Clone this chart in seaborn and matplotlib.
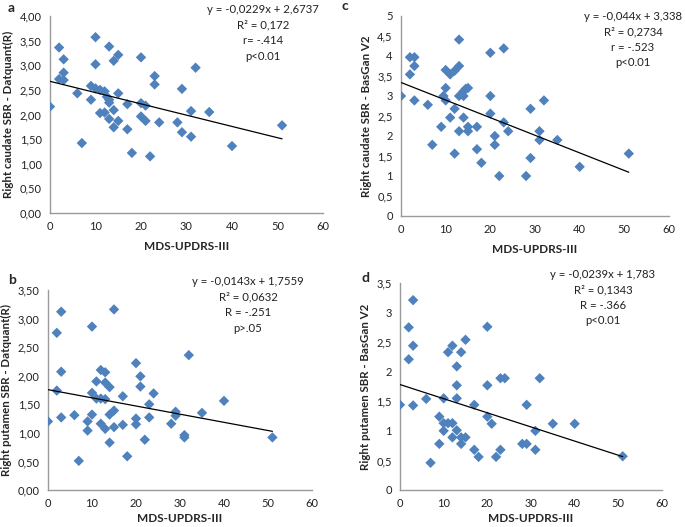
import numpy as np
import pandas as pd
import matplotlib
matplotlib.use("Agg")
import matplotlib.pyplot as plt
import seaborn as sns

# panel a: right caudate, Datquant
a_x = [0, 2, 3, 3, 2, 3, 6, 7, 9, 9, 10, 10, 10, 11, 11, 12, 12, 12.5, 13, 13, 13, 13,
       14, 14, 14, 15, 15, 15, 17, 17, 18, 20, 20, 20, 21, 21, 22, 23, 23, 24, 28, 29,
       29, 31, 31, 32, 35, 40, 51]
a_y = [2.16, 3.36, 3.12, 2.85, 2.72, 2.70, 2.43, 1.42, 2.58, 2.30, 3.57, 3.02, 2.53,
       2.50, 2.03, 2.47, 2.04, 2.36, 3.38, 2.30, 2.24, 1.91, 3.09, 2.09, 1.74, 3.21,
       2.43, 1.87, 2.21, 1.70, 1.22, 3.16, 2.23, 1.96, 2.18, 1.87, 1.15, 2.78, 2.61,
       1.84, 1.84, 2.52, 1.64, 2.07, 1.55, 2.95, 2.05, 1.36, 1.78]

# panel b: right putamen, Datquant
b_x = [0, 2, 2, 3, 3, 3, 6, 7, 9, 9, 10, 10, 10, 11, 11, 12, 12, 12, 13, 13, 13, 13,
       14, 14, 14, 15, 15, 15, 17, 17, 18, 20, 20, 20, 21, 21, 22, 23, 23, 24, 28, 29,
       29, 31, 31, 32, 35, 40, 51]
b_y = [1.20, 2.75, 1.74, 3.12, 2.07, 1.27, 1.31, 0.51, 1.20, 1.04, 2.86, 1.70, 1.32,
       1.90, 1.60, 2.10, 1.60, 1.16, 2.06, 1.88, 1.59, 1.07, 1.80, 1.32, 0.83, 3.16,
       1.39, 1.10, 1.64, 1.14, 0.59, 2.22, 1.25, 1.15, 1.99, 1.81, 0.88, 1.50, 1.27,
       1.69, 1.16, 1.37, 1.30, 0.96, 0.92, 2.36, 1.35, 1.56, 0.92]

# panel c: right caudate, BasGan V2
c_x = [0, 2, 2, 3, 3, 3, 6, 7, 9, 9.5, 10, 10, 10, 11, 11, 12, 12, 12, 13, 13, 13, 13,
       14, 14, 14, 14.5, 15, 15, 15, 17, 17, 18, 20, 20, 20, 21, 21, 22, 23, 23, 24, 28,
       29, 29, 31, 31, 32, 35, 40, 51]
c_y = [3.00, 3.97, 3.54, 3.97, 3.75, 2.89, 2.78, 1.78, 2.23, 3.00, 3.65, 3.20, 2.89,
       3.54, 2.46, 3.63, 2.68, 1.56, 4.41, 3.75, 3.00, 2.12, 3.00, 3.12, 2.46, 3.18,
       3.20, 2.23, 2.12, 2.23, 1.67, 1.33, 4.08, 3.00, 2.56, 2.00, 1.78, 1.00, 4.19,
       2.34, 2.12, 1.00, 2.68, 1.45, 2.12, 1.90, 2.89, 1.90, 1.23, 1.56]

# panel d: right putamen, BasGan V2
d_x = [0, 2, 2, 3, 3, 3, 6, 7, 9, 9, 10, 10, 10, 11, 11, 12, 12, 12, 13, 13, 13, 13,
       14, 14, 14, 15, 15, 17, 17, 18, 20, 20, 20, 21, 22, 23, 23, 24, 28, 29, 29, 31,
       31, 32, 35, 40, 51]
d_y = [1.44, 2.75, 2.21, 3.21, 2.44, 1.43, 1.54, 0.46, 1.24, 0.78, 1.55, 1.13, 1.00,
       2.33, 1.13, 2.44, 1.13, 0.89, 2.09, 1.77, 1.55, 1.01, 2.33, 0.89, 0.78, 2.54,
       0.89, 1.44, 0.68, 0.56, 2.76, 1.77, 1.24, 1.12, 0.56, 1.89, 0.68, 1.89, 0.78,
       1.44, 0.78, 1.00, 0.68, 1.89, 1.12, 1.12, 0.57]

# regression equations printed on the chart
slopes = {"a": -0.0229, "b": -0.0143, "c": -0.044, "d": -0.0239}
intercepts = {"a": 2.6737, "b": 1.7559, "c": 3.338, "d": 1.783}
stats_text = {
    "a": "y = -0,0229x + 2,6737\nR² = 0,172\nr= -.414\np<0.01",
    "b": "y = -0,0143x + 1,7559\nR² = 0,0632\nR = -.251\np>.05",
    "c": "y = -0,044x + 3,338\nR² = 0,2734\nr = -.523\np<0.01",
    "d": "y = -0,0239x + 1,783\nR² = 0,1343\nR = -.366\np<0.01",
}
ylabels = {
    "a": "Right caudate SBR - Datquant(R)",
    "b": "Right putamen SBR - Datquant(R)",
    "c": "Right caudate SBR - BasGan V2",
    "d": "Right putamen SBR - BasGan V2",
}

sns.set_style("white")
plt.rcParams["font.family"] = ["Lato", "DejaVu Sans"]

W, H = 685, 527
fig = plt.figure(figsize=(W / 100, H / 100), dpi=100)

# axes boxes in pixels: left, top, right, bottom
boxes = {
    "a": (50, 16, 323, 213),
    "c": (401, 16, 669, 216),
    "b": (48, 290, 312, 490),
    "d": (400, 283, 662, 490),
}
data = {"a": (a_x, a_y), "b": (b_x, b_y), "c": (c_x, c_y), "d": (d_x, d_y)}
ylims = {"a": (0, 4, 0.5), "b": (0, 3.5, 0.5), "c": (0, 5, 0.5), "d": (0, 3.5, 0.5)}
# text centre x, first line y (pixels)
txt_pos = {"a": (263, 4), "b": (248, 276), "c": (633, 11), "d": (603, 269)}
lbl_pos = {"a": (8, 2), "b": (8, 274), "c": (341, 0), "d": (362, 272)}

blue = "#4f81bd"
for key in ["a", "b", "c", "d"]:
    l, t, r, b = boxes[key]
    ax = fig.add_axes([l / W, 1 - b / H, (r - l) / W, (b - t) / H])
    x, y = data[key]
    df = pd.DataFrame({"x": x, "y": y})
    sns.scatterplot(data=df, x="x", y="y", marker="D", s=28, color=blue,
                    edgecolor="none", ax=ax, zorder=3)
    xl = np.array([min(x), max(x)])
    sns.lineplot(x=xl, y=slopes[key] * xl + intercepts[key], color="black",
                 linewidth=0.9, ax=ax, zorder=4)
    lo, hi, step = ylims[key]
    ax.set_xlim(0, 60)
    ax.set_ylim(lo, hi)
    ax.set_xticks(range(0, 61, 10))
    yt = np.arange(lo, hi + 0.001, step)
    ax.set_yticks(yt)
    if key in ("a", "b"):
        ax.set_yticklabels([f"{v:.2f}".replace(".", ",") for v in yt])
    else:
        ax.set_yticklabels([(f"{v:g}").replace(".", ",") for v in yt])
    ax.tick_params(length=0, labelsize=8, colors="#222222", pad=6)
    for s in ["top", "right"]:
        ax.spines[s].set_visible(False)
    for s in ["left", "bottom"]:
        ax.spines[s].set_color("#9a9a9a")
        ax.spines[s].set_linewidth(1.0)
    ax.set_xlabel("MDS-UPDRS-III", fontsize=8.5, fontweight="bold",
                  labelpad=6 if key in ("a", "c") else 3)
    ax.set_ylabel(ylabels[key], fontsize=8.3, fontweight="bold", labelpad=4)
    tx, ty = txt_pos[key]
    fig.text(tx / W, 1 - ty / H, stats_text[key], ha="center", va="top",
             fontsize=8.2, linespacing=1.5, color="#222222")
    lx, ly = lbl_pos[key]
    fig.text(lx / W, 1 - ly / H, key, ha="left", va="top", fontsize=10,
             fontweight="bold")

fig.savefig("out.png", dpi=100)
